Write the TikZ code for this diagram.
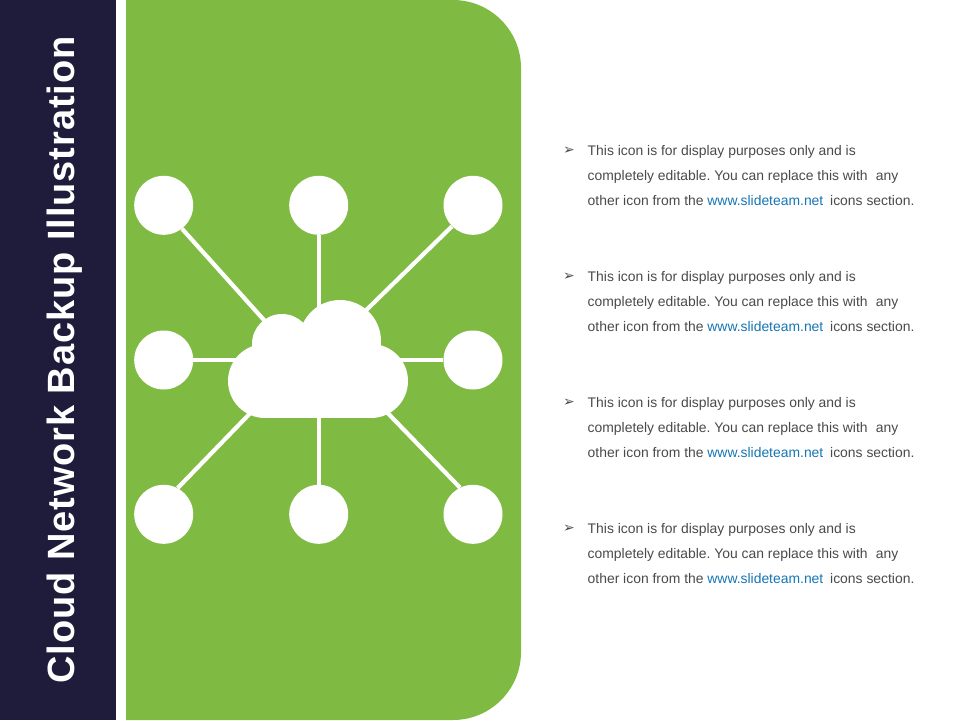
\documentclass[tikz,border=0pt]{standalone}
\usepackage{fontspec}
\setmainfont{Liberation Sans}
\newfontfamily\bulletfont{DejaVu Sans}
\newfontfamily\titlefont[LetterSpace=2.4]{Liberation Sans}
\definecolor{barnavy}{HTML}{1F1B3A}
\definecolor{panelgreen}{HTML}{7FBB42}
\definecolor{bodygray}{HTML}{4A4A4A}
\definecolor{linkblue}{HTML}{1576B4}
\tikzset{
  hubdot/.style={circle,fill=white,draw=none,minimum size=59pt,inner sep=0pt},
  spoke/.style={draw=white,line width=4.2pt},
  para/.style={anchor=base west,inner sep=0pt,text=bodygray,font=\fontsize{13.9pt}{15pt}\selectfont},
  bul/.style={anchor=center,inner sep=0pt,text=bodygray,font=\bulletfont\fontsize{14pt}{15pt}\selectfont},
}
\newcommand{\linkword}{\textcolor{linkblue}{www.slideteam.net}}
\frenchspacing
\begin{document}
\begin{tikzpicture}[x=1pt,y=-1pt]
\useasboundingbox (0,0) rectangle (960,720);
\fill[white] (0,0) rectangle (960,720);
\fill[barnavy] (0,0) rectangle (116,720);
\fill[panelgreen] (126,0) -- (453,0) arc[start angle=90,end angle=0,radius=68pt] -- (521,652) arc[start angle=0,end angle=-90,radius=68pt] -- (126,720) -- cycle;
\node[rotate=90,anchor=base,inner sep=0pt,text=white,font=\titlefont\bfseries\fontsize{38pt}{44pt}\selectfont] (title) at (74,360) {Cloud Network Backup Illustration};
% spoke ends inside the cloud
\coordinate (hub) at (318.7,360);
\coordinate (endTL) at (272,329);
\coordinate (endTR) at (350,326);
\coordinate (endBL) at (262,401);
\coordinate (endBR) at (376,401);
\node[hubdot] (n1) at (163.7,205.3) {};
\node[hubdot] (n2) at (318.7,205.3) {};
\node[hubdot] (n3) at (473,205.3) {};
\node[hubdot] (n4) at (163.7,360) {};
\node[hubdot] (n5) at (473,360) {};
\node[hubdot] (n6) at (163.7,514.3) {};
\node[hubdot] (n7) at (318.7,514.3) {};
\node[hubdot] (n8) at (473,514.3) {};
\draw[spoke] (n1.-52) -- (endTL);
\draw[spoke] (n2) -- (hub);
\draw[spoke] (n3.-135) -- (endTR);
\draw[spoke] (n4) -- (hub);
\draw[spoke] (n5) -- (hub);
\draw[spoke] (n6.62) -- (endBL);
\draw[spoke] (n7) -- (hub);
\draw[spoke] (n8.116) -- (endBR);
% cloud
\fill[white] (265,381) circle[radius=37pt] (371,381) circle[radius=37pt] (282,344) circle[radius=30pt] (340,341) circle[radius=41pt];
\fill[white] (265,344) rectangle (371,418);
% text
\foreach \y in {155.3,281.3,407.3,533.3}{
  \node[bul] at (569,\y-5) {➢};
  \node[para] at (587.5,\y) {This icon is for display purposes only and is};
  \node[para] at (587.5,\y+25) {completely editable. You can replace this with\hspace{4.5pt} any};
  \node[para] at (587.5,\y+50) {other icon from the \linkword\hspace{3pt} icons section.};
}
\end{tikzpicture}
\end{document}
